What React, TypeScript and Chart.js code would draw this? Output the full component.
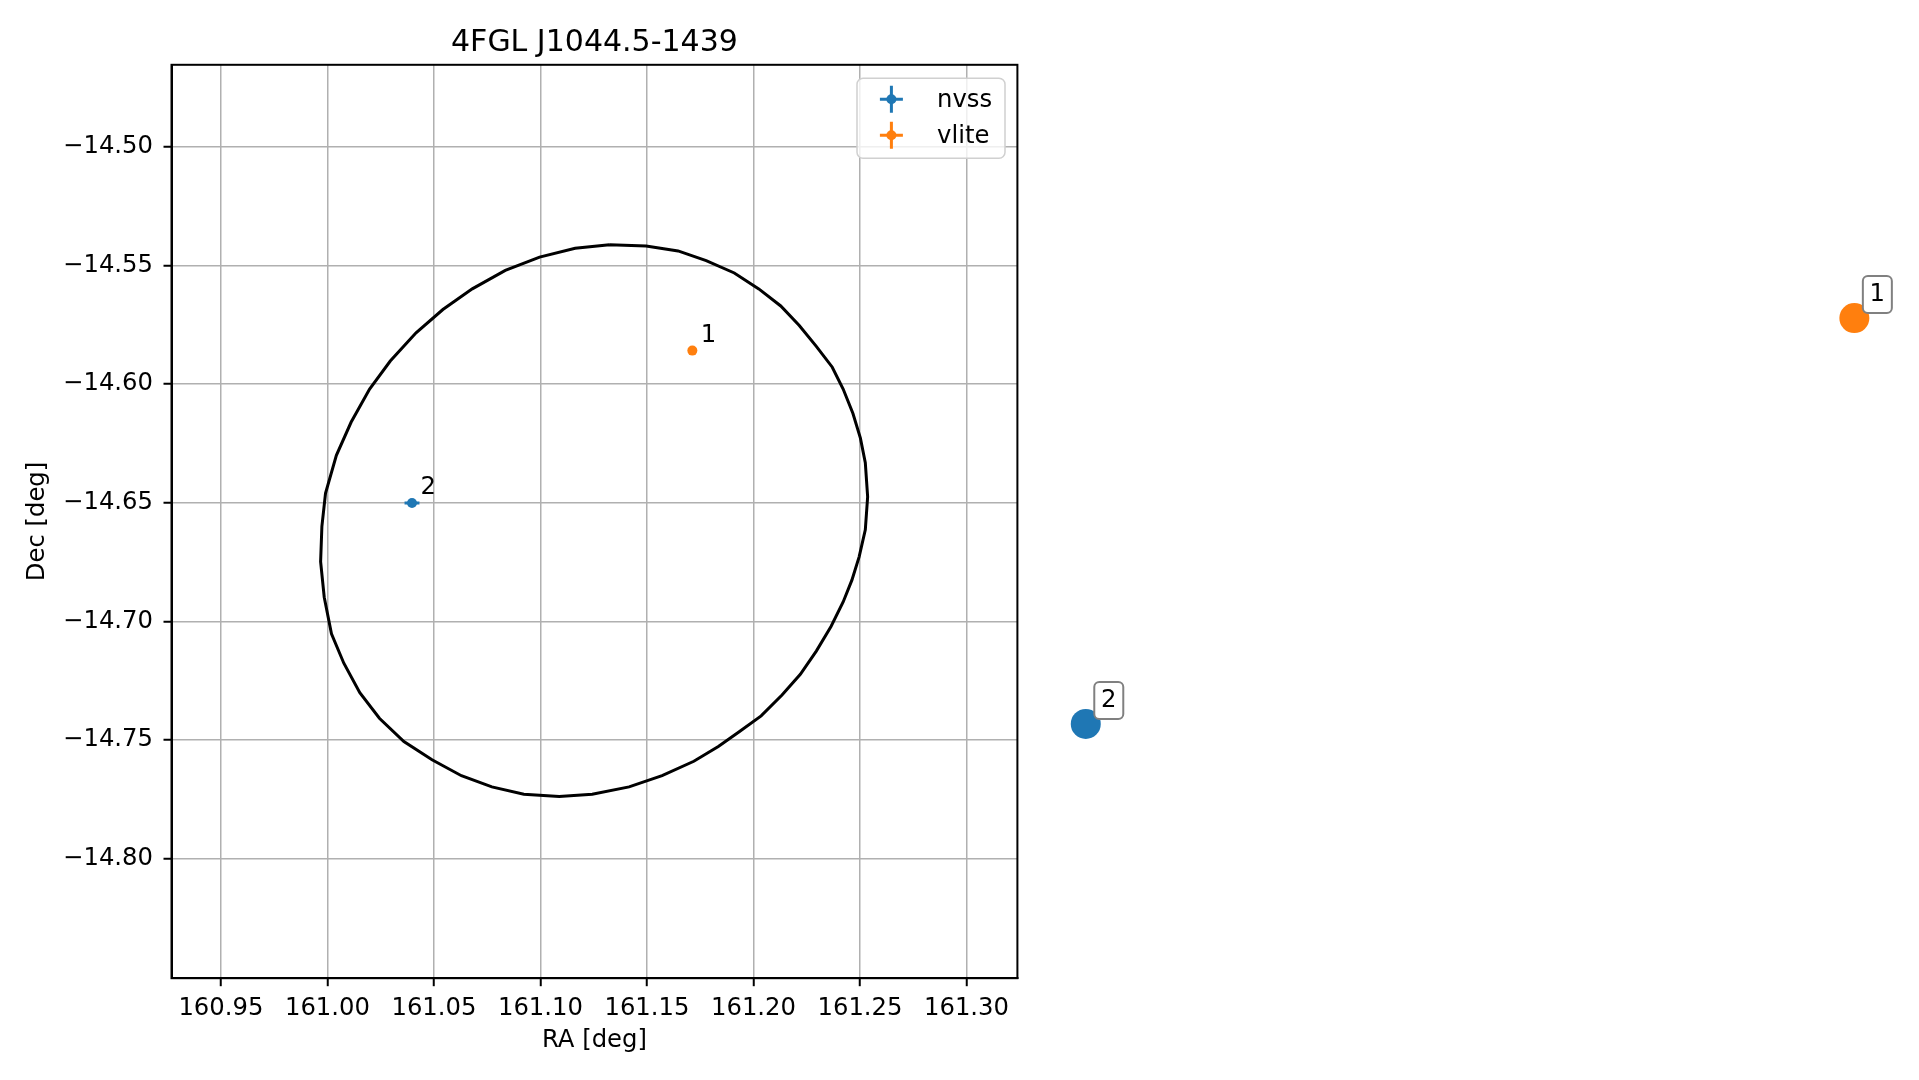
import React, { useEffect, useRef } from 'react';
import { Chart, registerables } from 'chart.js';

Chart.register(...registerables);

// ---------- text ----------
const TITLE = '4FGL J1044.5-1439';
const X_LABEL = 'RA [deg]';
const Y_LABEL = 'Dec [deg]';

// ---------- axes ----------
const xTickValues = [160.95, 161.0, 161.05, 161.1, 161.15, 161.2, 161.25, 161.3];
const xTickLabels = ['160.95', '161.00', '161.05', '161.10', '161.15', '161.20', '161.25', '161.30'];
const yTickValues = [-14.5, -14.55, -14.6, -14.65, -14.7, -14.75, -14.8];
const yTickLabels = ['\u221214.50', '\u221214.55', '\u221214.60', '\u221214.65', '\u221214.70', '\u221214.75', '\u221214.80'];
const X_MIN = 160.9268;
const X_MAX = 161.3239;
const Y_MIN = -14.8503;
const Y_MAX = -14.4655;

// ---------- 4FGL error ellipse (polygon) ----------
const ellipseRa = [161.1324, 161.1496, 161.1646, 161.1778, 161.1910, 161.2025, 161.2128, 161.2215, 161.2295, 161.2370,
  161.2421, 161.2467, 161.2502, 161.2525, 161.2536, 161.2525, 161.2496, 161.2462, 161.2421, 161.2364,
  161.2295, 161.2220, 161.2134, 161.2036, 161.1933, 161.1835, 161.1720, 161.1571, 161.1416, 161.1243,
  161.1088, 161.0922, 161.0772, 161.0629, 161.0491, 161.0359, 161.0244, 161.0152, 161.0077, 161.0019,
  160.9985, 160.9968, 160.9974, 160.9991, 161.0042, 161.0111, 161.0198, 161.0295, 161.0416, 161.0542,
  161.0680, 161.0835, 161.0996, 161.1163, 161.1324];
const ellipseDec = [-14.5413, -14.5418, -14.5439, -14.5480, -14.5532, -14.5599, -14.5671, -14.5753, -14.5841, -14.5929,
  -14.6021, -14.6124, -14.6228, -14.6331, -14.6475, -14.6614, -14.6728, -14.6826, -14.6918, -14.7021,
  -14.7125, -14.7223, -14.7310, -14.7398, -14.7465, -14.7527, -14.7589, -14.7650, -14.7697, -14.7728,
  -14.7738, -14.7728, -14.7697, -14.7650, -14.7583, -14.7506, -14.7408, -14.7300, -14.7176, -14.7052,
  -14.6898, -14.6748, -14.6599, -14.6460, -14.6300, -14.6161, -14.6021, -14.5903, -14.5784, -14.5686,
  -14.5599, -14.5521, -14.5465, -14.5428, -14.5413];

// ---------- sources ----------
const seriesNames = ['nvss', 'vlite'];
const seriesColors = ['#1f77b4', '#ff7f0e'];

const nvssRa = [161.0397];
const nvssDec = [-14.6501];
const nvssRaErr = [0.0035];
const nvssDecErr = [0.001];
const nvssIds = ['2'];

const vliteRa = [161.1713];
const vliteDec = [-14.5859];
const vliteRaErr = [0.0015];
const vliteDecErr = [0.001];
const vliteIds = ['1'];

// large labelled markers that lie outside the axes
const outerRa = [161.3560, 161.7168];
const outerDec = [-14.7432, -14.5722];
const outerSeries = [0, 1];
const outerIds = ['2', '1'];

const FONT = '"DejaVu Sans", sans-serif';
const TICK_PX = 24.3;

const decorPlugin = {
  id: 'decor',
  beforeDatasetsDraw(chart: any) {
    const { ctx, chartArea: a, scales } = chart;
    const xs = scales.x;
    const ys = scales.y;
    ctx.save();
    ctx.beginPath();
    ctx.rect(a.left, a.top, a.right - a.left, a.bottom - a.top);
    ctx.clip();
    const groups = [
      { ra: nvssRa, dec: nvssDec, er: nvssRaErr, ed: nvssDecErr, c: seriesColors[0] },
      { ra: vliteRa, dec: vliteDec, er: vliteRaErr, ed: vliteDecErr, c: seriesColors[1] },
    ];
    ctx.lineWidth = 3;
    for (const g of groups) {
      ctx.strokeStyle = g.c;
      for (let i = 0; i < g.ra.length; i++) {
        const px = xs.getPixelForValue(g.ra[i]);
        const py = ys.getPixelForValue(g.dec[i]);
        const x0 = xs.getPixelForValue(g.ra[i] - g.er[i]);
        const x1 = xs.getPixelForValue(g.ra[i] + g.er[i]);
        const y0 = ys.getPixelForValue(g.dec[i] - g.ed[i]);
        const y1 = ys.getPixelForValue(g.dec[i] + g.ed[i]);
        ctx.beginPath();
        ctx.moveTo(x0, py); ctx.lineTo(x1, py);
        ctx.moveTo(px, y0); ctx.lineTo(px, y1);
        ctx.stroke();
      }
    }
    ctx.restore();
  },
  afterDatasetsDraw(chart: any) {
    const { ctx, chartArea: a, scales } = chart;
    const xs = scales.x;
    const ys = scales.y;
    ctx.save();
    // frame (all four spines)
    ctx.strokeStyle = '#000';
    ctx.lineWidth = 2;
    ctx.strokeRect(a.left, a.top, a.right - a.left, a.bottom - a.top);

    // id labels next to sources
    ctx.fillStyle = '#000';
    ctx.font = `${TICK_PX}px ${FONT}`;
    ctx.textAlign = 'left';
    ctx.textBaseline = 'alphabetic';
    const lab = (ra: number[], dec: number[], ids: string[]) => {
      for (let i = 0; i < ra.length; i++) {
        const px = xs.getPixelForValue(ra[i]);
        const py = ys.getPixelForValue(dec[i]);
        ctx.fillText(ids[i], px + 8.5, py - 9);
      }
    };
    lab(nvssRa, nvssDec, nvssIds);
    lab(vliteRa, vliteDec, vliteIds);

    // large markers outside the axes + boxed labels
    for (let i = 0; i < outerRa.length; i++) {
      const px = xs.getPixelForValue(outerRa[i]);
      const py = ys.getPixelForValue(outerDec[i]);
      ctx.beginPath();
      ctx.arc(px, py, 15, 0, Math.PI * 2);
      ctx.fillStyle = seriesColors[outerSeries[i]];
      ctx.fill();
      const bx = px + 8.5;
      const by = py - 42;
      ctx.beginPath();
      ctx.roundRect(bx, by, 29, 37, 5);
      ctx.fillStyle = '#fff';
      ctx.fill();
      ctx.strokeStyle = '#808080';
      ctx.lineWidth = 2;
      ctx.stroke();
      ctx.fillStyle = '#000';
      ctx.textAlign = 'center';
      ctx.textBaseline = 'middle';
      ctx.font = `${TICK_PX}px ${FONT}`;
      ctx.fillText(outerIds[i], bx + 14.5, by + 19);
    }

    // legend
    const lw = 148, lh = 80;
    const lx = a.right - 12.4 - lw;
    const ly = a.top + 13.5;
    ctx.beginPath();
    ctx.roundRect(lx, ly, lw, lh, 6);
    ctx.fillStyle = 'rgba(255,255,255,0.8)';
    ctx.fill();
    ctx.strokeStyle = '#d0d0d0';
    ctx.lineWidth = 1.5;
    ctx.stroke();
    for (let i = 0; i < seriesNames.length; i++) {
      const cx = lx + 34.4;
      const cy = ly + 21 + i * 36;
      ctx.strokeStyle = seriesColors[i];
      ctx.lineWidth = 3;
      ctx.beginPath();
      ctx.moveTo(cx - 11.5, cy); ctx.lineTo(cx + 11.5, cy);
      ctx.moveTo(cx, cy - 13.5); ctx.lineTo(cx, cy + 13.5);
      ctx.stroke();
      ctx.fillStyle = seriesColors[i];
      ctx.beginPath();
      ctx.arc(cx, cy, 5, 0, Math.PI * 2);
      ctx.fill();
      ctx.fillStyle = '#000';
      ctx.textAlign = 'left';
      ctx.textBaseline = 'middle';
      ctx.font = `${TICK_PX}px ${FONT}`;
      ctx.fillText(seriesNames[i], lx + 80, cy + 1);
    }

    // title centred over the axes
    ctx.fillStyle = '#000';
    ctx.font = `30px ${FONT}`;
    ctx.textAlign = 'center';
    ctx.textBaseline = 'middle';
    ctx.fillText(TITLE, (a.left + a.right) / 2, 43.5);
    ctx.restore();
  },
};

export default function App() {
  const canvasRef = useRef<HTMLCanvasElement | null>(null);

  useEffect(() => {
    document.body.style.margin = '0';
    document.body.style.overflow = 'hidden';
    const canvas = canvasRef.current;
    if (!canvas) return;

    const pts = (ra: number[], dec: number[]) => ra.map((r, i) => ({ x: r, y: dec[i] }));

    const chart = new Chart(canvas, {
      type: 'scatter',
      data: {
        datasets: [
          {
            label: seriesNames[0],
            data: pts(nvssRa, nvssDec),
            backgroundColor: seriesColors[0],
            borderColor: seriesColors[0],
            pointRadius: 5,
            borderWidth: 0,
          },
          {
            label: seriesNames[1],
            data: pts(vliteRa, vliteDec),
            backgroundColor: seriesColors[1],
            borderColor: seriesColors[1],
            pointRadius: 5,
            borderWidth: 0,
          },
          {
            label: 'ellipse',
            data: pts(ellipseRa, ellipseDec),
            showLine: true,
            borderColor: '#000',
            backgroundColor: '#000',
            borderWidth: 3,
            pointRadius: 0,
            tension: 0,
            fill: false,
          } as any,
        ],
      },
      options: {
        animation: false,
        responsive: false,
        maintainAspectRatio: false,
        events: [],
        layout: { padding: { left: 0, right: 1919 - 1017.4, top: 64.8, bottom: 0 } },
        plugins: {
          legend: { display: false },
          title: { display: false },
          tooltip: { enabled: false },
        },
        scales: {
          x: {
            type: 'linear',
            min: X_MIN,
            max: X_MAX,
            afterBuildTicks: (scale: any) => {
              scale.ticks = xTickValues.map((v) => ({ value: v }));
            },
            afterFit: (scale: any) => {
              scale.height = 1080 - 978.2;
            },
            ticks: {
              color: '#000',
              font: { family: FONT, size: TICK_PX },
              padding: 7.5,
              maxRotation: 0,
              autoSkip: false,
              callback: (_v: any, i: number) => xTickLabels[i],
            },
            grid: {
              color: '#b0b0b0',
              lineWidth: 1.5,
              tickColor: '#000',
              tickWidth: 2,
              tickLength: 8,
            },
            border: { display: true, color: '#000', width: 2 },
            title: {
              display: true,
              text: X_LABEL,
              color: '#000',
              font: { family: FONT, size: TICK_PX },
              padding: { top: 0, bottom: 24.5 },
            },
          },
          y: {
            type: 'linear',
            min: Y_MIN,
            max: Y_MAX,
            afterBuildTicks: (scale: any) => {
              scale.ticks = yTickValues.map((v) => ({ value: v }));
            },
            afterFit: (scale: any) => {
              scale.width = 171.5;
            },
            ticks: {
              color: '#000',
              font: { family: FONT, size: TICK_PX },
              padding: 10.5,
              autoSkip: false,
              callback: (_v: any, i: number) => yTickLabels[i],
            },
            grid: {
              color: '#b0b0b0',
              lineWidth: 1.5,
              tickColor: '#000',
              tickWidth: 2,
              tickLength: 8,
            },
            border: { display: true, color: '#000', width: 2 },
            title: {
              display: true,
              text: Y_LABEL,
              color: '#000',
              font: { family: FONT, size: TICK_PX },
              padding: { top: 23.5, bottom: 0 },
            },
          },
        },
      },
      plugins: [decorPlugin],
    } as any);

    return () => chart.destroy();
  }, []);

  return (
    <div style={{ position: 'absolute', left: 0, top: 0, width: 1919, height: 1080, background: '#fff' }}>
      <canvas ref={canvasRef} width={1919} height={1080} style={{ width: 1919, height: 1080, display: 'block' }} />
    </div>
  );
}
